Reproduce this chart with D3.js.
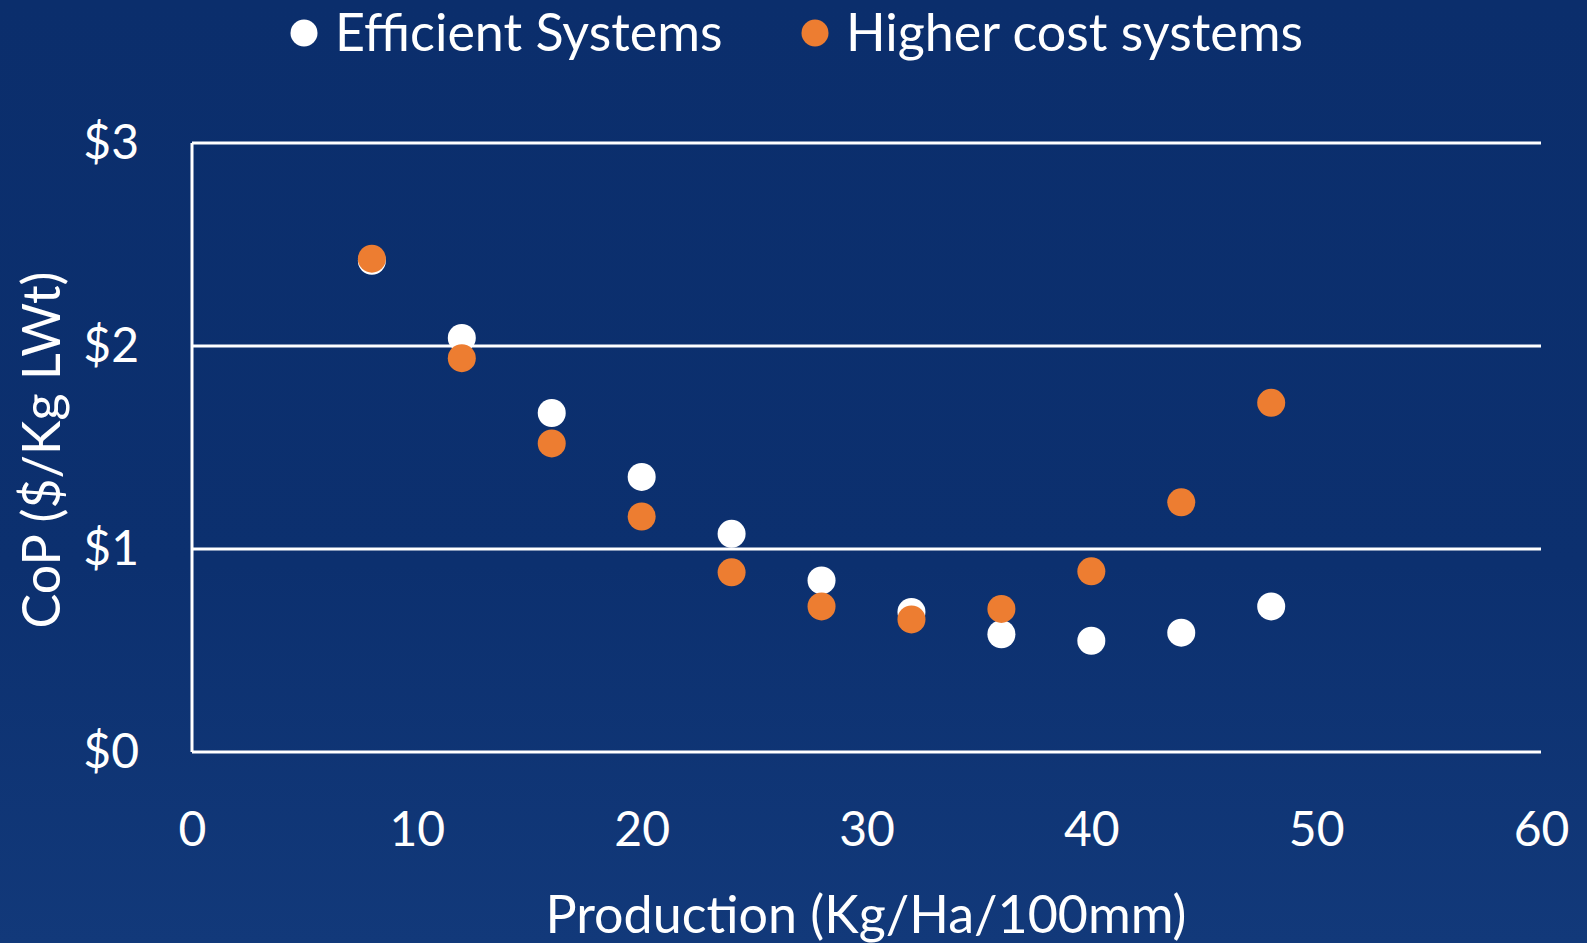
<!DOCTYPE html>
<html>
<head>
<meta charset="utf-8">
<script src="https://cdn.jsdelivr.net/npm/d3@7"></script>
<style>
  html, body { margin: 0; padding: 0; background: #0b2f6d; }
  svg text { font-family: Lato, "Open Sans", sans-serif; fill: #ffffff; }
</style>
</head>
<body>
<div id="chart"></div>
<script>
var production = [8, 12, 16, 20, 24, 28, 32, 36, 40, 44, 48];
var efficientCoP = [2.42, 2.04, 1.67, 1.355, 1.075, 0.845, 0.69, 0.58, 0.548, 0.588, 0.717];
var higherCoP = [2.43, 1.94, 1.52, 1.16, 0.885, 0.717, 0.653, 0.705, 0.89, 1.23, 1.72];
var seriesNames = ["Efficient Systems", "Higher cost systems"];
var seriesColors = ["#ffffff", "#ed7d31"];
var xTicks = [0, 10, 20, 30, 40, 50, 60];
var yTicks = [0, 1, 2, 3];

var W = 1587, H = 943;
var margin = {top: 143, right: 46, bottom: 191, left: 192},
    width = W - margin.left - margin.right,
    height = H - margin.top - margin.bottom;

var svg = d3.select("#chart").append("svg")
    .attr("width", W)
    .attr("height", H);

// background, slightly lighter towards the bottom like the sea photo
var defs = svg.append("defs");
var grad = defs.append("linearGradient")
    .attr("id", "bg").attr("x1", 0).attr("y1", 0).attr("x2", 0).attr("y2", 1);
grad.append("stop").attr("offset", "0%").attr("stop-color", "#0b2e6c");
grad.append("stop").attr("offset", "60%").attr("stop-color", "#0c306f");
grad.append("stop").attr("offset", "100%").attr("stop-color", "#12397a");
svg.append("rect").attr("width", W).attr("height", H).attr("fill", "url(#bg)");

var g = svg.append("g")
    .attr("transform", "translate(" + margin.left + "," + margin.top + ")");

var x = d3.scaleLinear().domain([0, 60]).range([0, width]);
var y = d3.scaleLinear().domain([0, 3]).range([height, 0]);

// gridlines
g.selectAll(".grid")
  .data(yTicks)
  .enter().append("line")
    .attr("x1", 0)
    .attr("x2", width)
    .attr("y1", function(d) { return y(d); })
    .attr("y2", function(d) { return y(d); })
    .attr("stroke", "#ffffff")
    .attr("stroke-width", 3);

// left axis line
g.append("line")
    .attr("x1", 0).attr("x2", 0)
    .attr("y1", y(0)).attr("y2", y(3))
    .attr("stroke", "#ffffff")
    .attr("stroke-width", 3);

var yAxis = g.append("g")
    .call(d3.axisLeft(y).tickValues(yTicks).tickSize(0).tickPadding(53)
      .tickFormat(function(d) { return "$" + d; }));
yAxis.select(".domain").remove();
yAxis.selectAll("text")
    .style("font-size", "48px")
    .attr("fill", "#ffffff");

var xAxis = g.append("g")
    .attr("transform", "translate(0," + height + ")")
    .call(d3.axisBottom(x).tickValues(xTicks).tickSize(0).tickPadding(60));
xAxis.select(".domain").remove();
xAxis.selectAll("text")
    .style("font-size", "48px")
    .attr("fill", "#ffffff");

// points: efficient first, higher cost on top
var series = [efficientCoP, higherCoP];
series.forEach(function(vals, si) {
  g.selectAll(".pt" + si)
    .data(vals)
    .enter().append("circle")
      .attr("cx", function(d, i) { return x(production[i]); })
      .attr("cy", function(d) { return y(d); })
      .attr("r", 14)
      .attr("fill", seriesColors[si]);
});

// axis titles
svg.append("text")
    .attr("x", 866)
    .attr("y", 933)
    .attr("text-anchor", "middle")
    .style("font-size", "52px")
    .text("Production (Kg/Ha/100mm)");

svg.append("text")
    .attr("transform", "translate(60,450) rotate(-90)")
    .attr("text-anchor", "middle")
    .style("font-size", "52px")
    .text("CoP ($/Kg LWt)");

// legend
var legendX = [304, 815];
var legend = svg.selectAll(".legend")
    .data(seriesNames)
    .enter().append("g")
    .attr("transform", function(d, i) { return "translate(" + legendX[i] + ",33)"; });
legend.append("circle")
    .attr("r", 13.5)
    .attr("fill", function(d, i) { return seriesColors[i]; });
legend.append("text")
    .attr("x", 31)
    .attr("y", 18)
    .style("font-size", "52px")
    .text(function(d) { return d; });
</script>
</body>
</html>
